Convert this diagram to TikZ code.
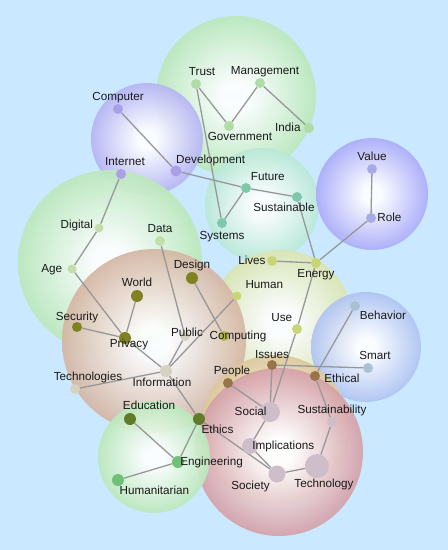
\documentclass[tikz,border=0pt]{standalone}
\usepackage{fontspec}
\setmainfont{Liberation Sans}

\definecolor{sky}{RGB}{202,232,255}
\definecolor{bGrn}{RGB}{174,228,174}
\definecolor{bPur}{RGB}{168,166,242}
\definecolor{bTeal}{RGB}{172,228,208}
\definecolor{bVio}{RGB}{156,156,248}
\definecolor{bBrn}{RGB}{204,168,146}
\definecolor{bYel}{RGB}{212,224,164}
\definecolor{bBlu}{RGB}{160,184,240}
\definecolor{bTan}{RGB}{214,190,136}
\definecolor{bRed}{RGB}{204,142,152}
\definecolor{dGrn}{RGB}{176,220,168}
\definecolor{dPur}{RGB}{168,160,232}
\definecolor{dTeal}{RGB}{128,200,172}
\definecolor{dVio}{RGB}{168,170,228}
\definecolor{dLgrn}{RGB}{196,222,170}
\definecolor{dOlv}{RGB}{128,130,34}
\definecolor{dGry}{RGB}{214,210,192}
\definecolor{dYel}{RGB}{200,214,120}
\definecolor{dCmp}{RGB}{178,182,66}
\definecolor{dBlu}{RGB}{168,194,212}
\definecolor{dBrn}{RGB}{152,116,74}
\definecolor{dMau}{RGB}{206,190,202}
\definecolor{dDkg}{RGB}{96,124,40}
\definecolor{dMgr}{RGB}{112,192,118}
\definecolor{linkgray}{RGB}{152,152,152}
\definecolor{ink}{RGB}{25,25,25}

\colorlet{bubblecol}{white}
\pgfdeclareradialshading[bubblecol]{bubble}{\pgfpointorigin}{%
  color(0bp)=(white); color(4bp)=(white); color(29bp)=(bubblecol); color(50bp)=(bubblecol)}

\pgfdeclarelayer{bubbles}
\pgfdeclarelayer{links}
\pgfsetlayers{bubbles,links,main}

\begin{document}
\begin{tikzpicture}[
    x=1pt, y=-1pt,
    bubble color/.code={\colorlet{bubblecol}{#1}},
    bubble/.style={bubble color=#1, shading=bubble, fill opacity=0.92},
    dot/.style={circle, fill=#1, inner sep=0pt, minimum size=10pt},
    lbl/.style={font=\fontsize{11.7}{14}\selectfont, text=ink, inner sep=1pt,
        text height=8.5pt, text depth=2.5pt},
    every label/.style={lbl},
    link/.style={draw=linkgray, line width=1.3pt}
]

\begin{pgfonlayer}{bubbles}
\fill[sky] (0,0) rectangle (448,550);
\shade[bubble=bGrn]  (236,96)  circle (80pt);
\shade[bubble=bTeal] (262,205) circle (57pt);
\shade[bubble=bPur]  (147,139) circle (56pt);
\shade[bubble=bVio]  (372,194) circle (56pt);
\shade[bubble=bGrn]  (110,262) circle (92pt);
\shade[bubble=bYel]  (281,322) circle (72pt);
\shade[bubble=bBrn]  (154,341) circle (92pt);
\shade[bubble=bBlu]  (366,347) circle (55pt);
\shade[bubble=bTan]  (275,430) circle (75pt);
\shade[bubble=bRed]  (279,452) circle (84pt);
\shade[bubble=bGrn]  (154,457) circle (56pt);
\end{pgfonlayer}

\node[dot=dGrn, label={[xshift=6pt]above:Trust}] (trust) at (196,84) {};
\node[dot=dGrn, label={[xshift=5pt]above:Management}] (management) at (260,83) {};
\node[dot=dGrn, label={[xshift=11pt]below:Government}] (government) at (229,126) {};
\node[dot=dGrn, label={[xshift=-2pt]left:India}] (india) at (309,128) {};

\node[dot=dPur, label=above:Computer] (computer) at (118,109) {};
\node[dot=dPur, label={[xshift=4pt]above:Internet}] (internet) at (121,174) {};
\node[dot=dPur, minimum size=11pt, label={[xshift=-5pt]above right:Development}] (development) at (176,171) {};

\node[dot=dTeal, label={above right:Future}] (future) at (246,188) {};
\node[dot=dTeal, label={[xshift=-13pt]below:Sustainable}] (sustainable) at (297,197) {};
\node[dot=dTeal, label={[yshift=-2pt]below:Systems}] (systems) at (222,223) {};

\node[dot=dVio, label=above:Value] (value) at (372,169) {};
\node[dot=dVio, label=right:Role] (role) at (371,218) {};

\node[dot=dLgrn, minimum size=9pt, label={[yshift=3pt]left:Digital}] (digital) at (99,228) {};
\node[dot=dLgrn, label=above:Data] (data) at (160,241) {};
\node[dot=dLgrn, minimum size=9pt, label={[xshift=-4pt]left:Age}] (age) at (72,269) {};

\node[dot=dOlv, minimum size=12pt, label=above:Design] (design) at (192,278) {};
\node[dot=dOlv, minimum size=12pt, label=above:World] (world) at (137,296) {};
\node[dot=dOlv, label={[yshift=-2pt]above:Security}] (security) at (77,327) {};
\node[dot=dOlv, minimum size=12pt, label={[xshift=4pt, yshift=6pt]below:Privacy}] (privacy) at (125,338) {};

\node[dot=dGry, label={[xshift=2pt, yshift=3pt]center:Public}] (public) at (185,336) {};
\node[dot=dGry, label={[xshift=13pt]above:Technologies}] (technologies) at (75,389) {};
\node[dot=dGry, minimum size=12pt, label={[xshift=-4pt]below:Information}] (information) at (166,371) {};

\node[dot=dYel, label=left:Lives] (lives) at (272,261) {};
\node[dot=dYel, label=below:Energy] (energy) at (316,263) {};
\node[dot=dYel, minimum size=9pt, label={[xshift=4pt]above right:Human}] (human) at (237,296) {};
\node[dot=dYel, label={above left:Use}] (use) at (297,329) {};
\node[dot=dCmp, label={[xshift=14pt]center:Computing}] (computing) at (224,336) {};

\node[dot=dBlu, label={below right:Behavior}] (behavior) at (355,306) {};
\node[dot=dBlu, label={[xshift=7pt]above:Smart}] (smart) at (368,368) {};

\node[dot=dBrn, label={[yshift=-2pt]above:Issues}] (issues) at (272,365) {};
\node[dot=dBrn, label={[xshift=3pt, yshift=-3pt]right:Ethical}] (ethical) at (315,376) {};
\node[dot=dBrn, label={[xshift=4pt]above:People}] (people) at (228,383) {};

\node[dot=dDkg, minimum size=12pt, label={[xshift=19pt]above:Education}] (education) at (130,419) {};
\node[dot=dDkg, minimum size=12pt, label={[xshift=-3pt]below right:Ethics}] (ethics) at (199,419) {};
\node[dot=dMgr, minimum size=12pt, label={[xshift=-5pt]right:Engineering}] (engineering) at (178,462) {};
\node[dot=dMgr, minimum size=12pt, label={[xshift=-4pt]below right:Humanitarian}] (humanitarian) at (118,480) {};

\node[dot=dMau, minimum size=20pt, label={[xshift=8pt]left:Social}] (social) at (270,412) {};
\node[dot=dMau, label=above:Sustainability] (sustainability) at (332,422) {};
\node[dot=dMau, minimum size=16pt, label={[xshift=-7pt]right:Implications}] (implications) at (250,446) {};
\node[dot=dMau, minimum size=17pt, label={below left:Society}] (society) at (277,474) {};
\node[dot=dMau, minimum size=24pt, label={[xshift=7pt]below:Technology}] (technology) at (317,466) {};

% Links
\begin{pgfonlayer}{links}
\draw[link] (trust) -- (government);
\draw[link] (trust) -- (systems);
\draw[link] (government) -- (management);
\draw[link] (management) -- (india);
\draw[link] (computer) -- (development);
\draw[link] (development) -- (future);
\draw[link] (future) -- (sustainable);
\draw[link] (future) -- (systems);
\draw[link] (internet) -- (digital);
\draw[link] (digital) -- (age);
\draw[link] (age) -- (privacy);
\draw[link] (world) -- (privacy);
\draw[link] (security) -- (privacy);
\draw[link] (privacy) -- (information);
\draw[link] (data) -- (public);
\draw[link] (public) -- (information);
\draw[link] (information) -- (human);
\draw[link] (design) -- (computing);
\draw[link] (information) -- (technologies);
\draw[link] (information) -- (ethics);
\draw[link] (sustainable) -- (energy);
\draw[link] (value) -- (role);
\draw[link] (role) -- (energy);
\draw[link] (lives) -- (energy);
\draw[link] (energy) -- (use);
\draw[link] (use) -- (social);
\draw[link] (issues) -- (smart);
\draw[link] (issues) -- (social);
\draw[link] (behavior) -- (ethical);
\draw[link] (ethical) -- (sustainability);
\draw[link] (sustainability) -- (technology);
\draw[link] (people) -- (social);
\draw[link] (social) -- (implications);
\draw[link] (implications) -- (society);
\draw[link] (ethics) -- (society);
\draw[link] (society) -- (technology);
\draw[link] (education) -- (engineering);
\draw[link] (ethics) -- (engineering);
\draw[link] (engineering) -- (humanitarian);
\end{pgfonlayer}

\end{tikzpicture}
\end{document}
